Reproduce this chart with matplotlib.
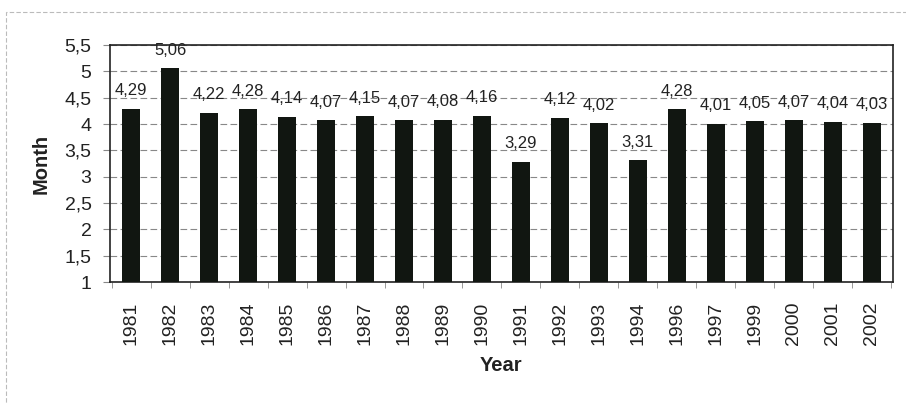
import matplotlib.pyplot as plt
import numpy as np
from matplotlib.patches import Rectangle

# Years and monthly values
years = ["1981", "1982", "1983", "1984", "1985", "1986", "1987", "1988", "1989", "1990",
         "1991", "1992", "1993", "1994", "1996", "1997", "1999", "2000", "2001", "2002"]
months = [4.29, 5.06, 4.22, 4.28, 4.14, 4.07, 4.15, 4.07, 4.08, 4.16,
          3.29, 4.12, 4.02, 3.31, 4.28, 4.01, 4.05, 4.07, 4.04, 4.03]
y_ticks = [1, 1.5, 2, 2.5, 3, 3.5, 4, 4.5, 5, 5.5]

plt.rcParams['font.family'] = ['Liberation Sans', 'DejaVu Sans']

fig = plt.figure(figsize=(9.06, 4.03), dpi=100)
ax = fig.add_axes([0.121, 0.300, 0.865, 0.588])

x = np.arange(len(years))
ax.bar(x, months, width=0.47, bottom=0, color="#111611", zorder=3)

# value labels above each bar
for xi, v in zip(x, months):
    ax.text(xi, v + 0.2, f"{v:.2f}".replace(".", ","), ha="center", va="bottom",
            fontsize=12, color="#222222", zorder=4)

ax.set_ylim(1, 5.5)
ax.set_xlim(-0.55, len(years) - 0.45)
ax.set_yticks(y_ticks)
ax.set_yticklabels([f"{t:g}".replace(".", ",") for t in y_ticks], fontsize=14, color="#222222")
ax.set_xticks(x)
ax.set_xticklabels(years, rotation=90, fontsize=14, color="#222222")
ax.tick_params(axis="x", length=0, pad=14)
ax.tick_params(axis="y", length=5, pad=8, color="#888888")

# small marks between categories
ax.set_xticks(np.arange(len(years) + 1) - 0.5, minor=True)
ax.tick_params(axis="x", which="minor", length=4, color="#888888")

ax.grid(axis="y", color="#888888", linestyle=(0, (6, 3)), linewidth=0.8, zorder=0)
for s in ax.spines.values():
    s.set_color("#222222")
    s.set_linewidth(1.2)

ax.set_ylabel("Month", fontsize=14.5, fontweight="bold", labelpad=10, color="#222222")
ax.set_xlabel("Year", fontsize=14.5, fontweight="bold", labelpad=8, color="#222222")

# light frame around the whole chart
fig.patches.append(Rectangle((0.007, -0.02), 1.05, 0.99, transform=fig.transFigure,
                             fill=False, edgecolor="#bbbbbb", linewidth=0.8,
                             linestyle=(0, (4, 2))))

fig.savefig("out.png", dpi=100, facecolor="white")
